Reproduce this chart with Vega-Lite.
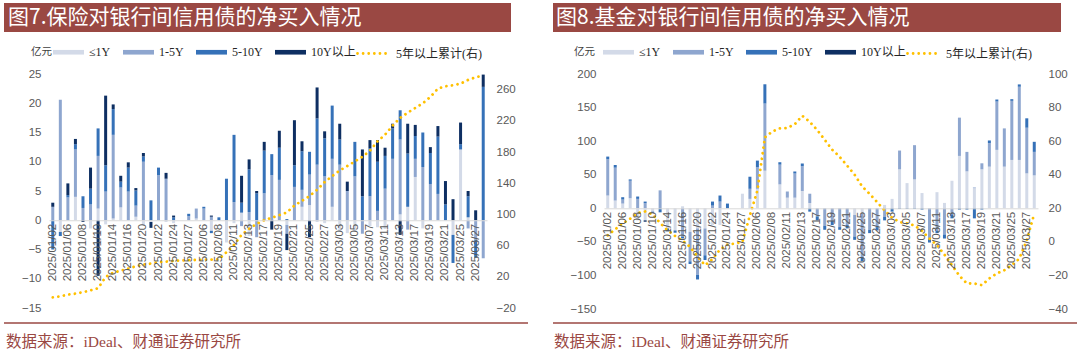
{
  "$schema": "https://vega.github.io/schema/vega-lite/v6.json",
  "background": "white",
  "padding": {"left": 3, "top": 3, "right": 0, "bottom": 0},
  "config": {"view": {"stroke": null}, "font": "Liberation Sans"},
  "datasets": {
    "ins": [
      {"d":"2025/01/02","le1":0,"y1_5":2.3,"y5_10":-5,"gt10":0.7,"cum":-6.3},
      {"d":"2025/01/03","le1":-2,"y1_5":20.6,"y5_10":-0.7,"gt10":0,"cum":-5},
      {"d":"2025/01/06","le1":0,"y1_5":3.9,"y5_10":0.4,"gt10":2,"cum":-2.9},
      {"d":"2025/01/07","le1":4,"y1_5":8.1,"y5_10":0.9,"gt10":0.9,"cum":-1.6},
      {"d":"2025/01/08","le1":0,"y1_5":2.1,"y5_10":2,"gt10":-0.3,"cum":0.2},
      {"d":"2025/01/09","le1":-1.4,"y1_5":2.7,"y5_10":2.7,"gt10":3.6,"cum":2.7},
      {"d":"2025/01/10","le1":2,"y1_5":9,"y5_10":4.7,"gt10":-9.5,"cum":5.3},
      {"d":"2025/01/13","le1":-0.7,"y1_5":4.9,"y5_10":4.5,"gt10":11.9,"cum":19.8},
      {"d":"2025/01/14","le1":0.3,"y1_5":14.3,"y5_10":4.4,"gt10":0.8,"cum":25.3},
      {"d":"2025/01/15","le1":2.2,"y1_5":3.4,"y5_10":1,"gt10":1,"cum":27.9},
      {"d":"2025/01/16","le1":0,"y1_5":4.9,"y5_10":4.1,"gt10":0.9,"cum":30.5},
      {"d":"2025/01/17","le1":0.6,"y1_5":1.9,"y5_10":2.6,"gt10":0.4,"cum":33.5},
      {"d":"2025/01/20","le1":-0.8,"y1_5":10,"y5_10":0.9,"gt10":0.6,"cum":35.6},
      {"d":"2025/01/21","le1":-0.3,"y1_5":0,"y5_10":3.4,"gt10":-1,"cum":36.9},
      {"d":"2025/01/22","le1":0,"y1_5":7.7,"y5_10":1.3,"gt10":0,"cum":38.7},
      {"d":"2025/01/23","le1":-0.3,"y1_5":7.1,"y5_10":0,"gt10":1,"cum":39.5},
      {"d":"2025/01/24","le1":-0.5,"y1_5":0,"y5_10":0.5,"gt10":0.3,"cum":40.4},
      {"d":"2025/01/26","le1":0,"y1_5":0,"y5_10":0,"gt10":0,"cum":41},
      {"d":"2025/01/27","le1":0,"y1_5":0.7,"y5_10":0.4,"gt10":0,"cum":41.3},
      {"d":"2025/02/05","le1":0.3,"y1_5":1.7,"y5_10":0,"gt10":0,"cum":41.6},
      {"d":"2025/02/06","le1":0,"y1_5":2,"y5_10":0.3,"gt10":0,"cum":42},
      {"d":"2025/02/07","le1":-1.8,"y1_5":0.6,"y5_10":-0.4,"gt10":0.2,"cum":42},
      {"d":"2025/02/08","le1":0,"y1_5":0,"y5_10":0.5,"gt10":0,"cum":42.5},
      {"d":"2025/02/10","le1":-3.8,"y1_5":0,"y5_10":7.1,"gt10":0,"cum":51.5},
      {"d":"2025/02/11","le1":-0.5,"y1_5":3.1,"y5_10":11.5,"gt10":0,"cum":60.9},
      {"d":"2025/02/12","le1":1.3,"y1_5":-1,"y5_10":1.7,"gt10":4.6,"cum":73.8},
      {"d":"2025/02/13","le1":-2.7,"y1_5":1.4,"y5_10":7.3,"gt10":1.7,"cum":81.5},
      {"d":"2025/02/14","le1":0,"y1_5":-2.9,"y5_10":4.6,"gt10":0.4,"cum":87.9},
      {"d":"2025/02/17","le1":0,"y1_5":4.6,"y5_10":7.3,"gt10":1.5,"cum":92.6},
      {"d":"2025/02/18","le1":0,"y1_5":7.7,"y5_10":3.6,"gt10":-1.6,"cum":95.6},
      {"d":"2025/02/19","le1":0,"y1_5":6.9,"y5_10":5.5,"gt10":2.9,"cum":99.1},
      {"d":"2025/02/20","le1":-0.8,"y1_5":-1.5,"y5_10":0.2,"gt10":-2.8,"cum":102.4},
      {"d":"2025/02/21","le1":0,"y1_5":5.7,"y5_10":3.7,"gt10":7.7,"cum":111.4},
      {"d":"2025/02/24","le1":2.3,"y1_5":2.9,"y5_10":6.6,"gt10":1.7,"cum":117.4},
      {"d":"2025/02/25","le1":2.6,"y1_5":5.2,"y5_10":3.9,"gt10":-2.9,"cum":123.5},
      {"d":"2025/02/26","le1":-0.3,"y1_5":9.5,"y5_10":7.9,"gt10":5.3,"cum":131.6},
      {"d":"2025/02/27","le1":-0.5,"y1_5":7.5,"y5_10":6.5,"gt10":1.2,"cum":141.4},
      {"d":"2025/02/28","le1":2.3,"y1_5":8.2,"y5_10":9.1,"gt10":0,"cum":149.1},
      {"d":"2025/03/03","le1":-2,"y1_5":9.5,"y5_10":4.3,"gt10":2.7,"cum":156.3},
      {"d":"2025/03/04","le1":-2.2,"y1_5":5,"y5_10":0,"gt10":1.6,"cum":162},
      {"d":"2025/03/05","le1":-2,"y1_5":7.5,"y5_10":5.9,"gt10":0,"cum":167.9},
      {"d":"2025/03/06","le1":0,"y1_5":-2.3,"y5_10":4.1,"gt10":8,"cum":173.9},
      {"d":"2025/03/07","le1":-1,"y1_5":4.1,"y5_10":8.2,"gt10":1.4,"cum":181.6},
      {"d":"2025/03/10","le1":-1.2,"y1_5":1.6,"y5_10":8.4,"gt10":3.7,"cum":193.6},
      {"d":"2025/03/11","le1":-1.5,"y1_5":5.4,"y5_10":5.6,"gt10":1.4,"cum":202.2},
      {"d":"2025/03/12","le1":0,"y1_5":10.5,"y5_10":5.2,"gt10":0.8,"cum":213.8},
      {"d":"2025/03/13","le1":1,"y1_5":12.8,"y5_10":5,"gt10":-2.5,"cum":223.6},
      {"d":"2025/03/14","le1":2.3,"y1_5":-1.6,"y5_10":9.1,"gt10":5.1,"cum":230.4},
      {"d":"2025/03/17","le1":7.4,"y1_5":3.1,"y5_10":3.9,"gt10":1.9,"cum":236.5},
      {"d":"2025/03/18","le1":-1.4,"y1_5":9.1,"y5_10":5.9,"gt10":0,"cum":242.4},
      {"d":"2025/03/19","le1":0,"y1_5":6.2,"y5_10":5.3,"gt10":1,"cum":250.6},
      {"d":"2025/03/20","le1":0,"y1_5":4.5,"y5_10":9.8,"gt10":1.8,"cum":261.3},
      {"d":"2025/03/21","le1":0,"y1_5":0,"y5_10":2.7,"gt10":4,"cum":264.2},
      {"d":"2025/03/24","le1":-2.5,"y1_5":0,"y5_10":-4.8,"gt10":3.6,"cum":265.5},
      {"d":"2025/03/25","le1":12.1,"y1_5":0,"y5_10":0.9,"gt10":3.7,"cum":267.7},
      {"d":"2025/03/26","le1":0.5,"y1_5":-1.4,"y5_10":3.6,"gt10":0.9,"cum":272.4},
      {"d":"2025/03/27","le1":0,"y1_5":-3.4,"y5_10":-3,"gt10":1.7,"cum":275.8},
      {"d":"2025/03/28","le1":0,"y1_5":-6.5,"y5_10":22.8,"gt10":2.1,"cum":278}
    ],
    "fund": [
      {"d":"2025/01/02","le1":19,"y1_5":54,"y5_10":4,"gt10":0,"cum":3.9},
      {"d":"2025/01/03","le1":11.5,"y1_5":49,"y5_10":4,"gt10":0,"cum":7.5},
      {"d":"2025/01/06","le1":7,"y1_5":6,"y5_10":3.5,"gt10":0,"cum":11},
      {"d":"2025/01/07","le1":15,"y1_5":26,"y5_10":2,"gt10":0,"cum":13.8},
      {"d":"2025/01/08","le1":-18,"y1_5":14,"y5_10":3.5,"gt10":0,"cum":17.2},
      {"d":"2025/01/09","le1":-18,"y1_5":7.5,"y5_10":2.5,"gt10":-2,"cum":18.1},
      {"d":"2025/01/10","le1":-5,"y1_5":0,"y5_10":-1.7,"gt10":0,"cum":16.4},
      {"d":"2025/01/13","le1":0,"y1_5":26.7,"y5_10":-6,"gt10":0,"cum":11.2},
      {"d":"2025/01/14","le1":-30,"y1_5":0,"y5_10":-4.3,"gt10":0,"cum":6.9},
      {"d":"2025/01/15","le1":-33,"y1_5":0,"y5_10":-3.4,"gt10":0,"cum":3.5},
      {"d":"2025/01/16","le1":3,"y1_5":-42,"y5_10":-3,"gt10":0,"cum":0.7},
      {"d":"2025/01/17","le1":-35,"y1_5":-44,"y5_10":-4,"gt10":0,"cum":-3},
      {"d":"2025/01/20","le1":-30,"y1_5":-69,"y5_10":-7,"gt10":0,"cum":-8.9},
      {"d":"2025/01/21","le1":-30,"y1_5":-40,"y5_10":-7,"gt10":0,"cum":-13.9},
      {"d":"2025/01/22","le1":-25,"y1_5":4,"y5_10":6,"gt10":0,"cum":-10.3},
      {"d":"2025/01/23","le1":-25,"y1_5":10,"y5_10":9,"gt10":0,"cum":-4.6},
      {"d":"2025/01/24","le1":0,"y1_5":0,"y5_10":7,"gt10":0,"cum":-1.6},
      {"d":"2025/01/26","le1":0,"y1_5":0,"y5_10":0,"gt10":0,"cum":-1},
      {"d":"2025/01/27","le1":21.7,"y1_5":0,"y5_10":0,"gt10":0,"cum":0},
      {"d":"2025/02/05","le1":14,"y1_5":15,"y5_10":18,"gt10":0,"cum":15.8},
      {"d":"2025/02/06","le1":29,"y1_5":32,"y5_10":10,"gt10":0,"cum":30.6},
      {"d":"2025/02/07","le1":56,"y1_5":100,"y5_10":28.7,"gt10":0,"cum":62.2},
      {"d":"2025/02/08","le1":0,"y1_5":0,"y5_10":0,"gt10":0,"cum":65.8},
      {"d":"2025/02/10","le1":35.6,"y1_5":29.4,"y5_10":3.6,"gt10":0,"cum":67.6},
      {"d":"2025/02/11","le1":15.8,"y1_5":9.2,"y5_10":0,"gt10":0,"cum":67.8},
      {"d":"2025/02/12","le1":15.8,"y1_5":36,"y5_10":3,"gt10":0,"cum":70.1},
      {"d":"2025/02/13","le1":25.7,"y1_5":37,"y5_10":4,"gt10":0,"cum":75.1},
      {"d":"2025/02/14","le1":7.9,"y1_5":13.8,"y5_10":-5,"gt10":0,"cum":71.5},
      {"d":"2025/02/17","le1":0,"y1_5":-12,"y5_10":-6,"gt10":0,"cum":66.6},
      {"d":"2025/02/18","le1":0,"y1_5":-26,"y5_10":-6,"gt10":0,"cum":60.8},
      {"d":"2025/02/19","le1":0,"y1_5":-19,"y5_10":-6,"gt10":0,"cum":54.9},
      {"d":"2025/02/20","le1":0,"y1_5":-28,"y5_10":-4,"gt10":0,"cum":50.6},
      {"d":"2025/02/21","le1":0,"y1_5":-25,"y5_10":-5,"gt10":0,"cum":45.4},
      {"d":"2025/02/24","le1":-10,"y1_5":-32,"y5_10":-5,"gt10":0,"cum":39.9},
      {"d":"2025/02/25","le1":-8,"y1_5":-64,"y5_10":-7,"gt10":0,"cum":33},
      {"d":"2025/02/26","le1":0,"y1_5":-32,"y5_10":-5,"gt10":0,"cum":28.6},
      {"d":"2025/02/27","le1":0,"y1_5":-28,"y5_10":-5,"gt10":0,"cum":23.7},
      {"d":"2025/02/28","le1":5,"y1_5":-13,"y5_10":-5,"gt10":0,"cum":18.7},
      {"d":"2025/03/03","le1":14,"y1_5":0,"y5_10":-5,"gt10":0,"cum":14.4},
      {"d":"2025/03/04","le1":58,"y1_5":28,"y5_10":-1,"gt10":0,"cum":11.8},
      {"d":"2025/03/05","le1":37.5,"y1_5":0,"y5_10":-1,"gt10":0,"cum":11},
      {"d":"2025/03/06","le1":43,"y1_5":51,"y5_10":-1,"gt10":0,"cum":9.8},
      {"d":"2025/03/07","le1":22.7,"y1_5":0,"y5_10":-2,"gt10":0,"cum":6.5},
      {"d":"2025/03/10","le1":0,"y1_5":-46,"y5_10":-5,"gt10":0,"cum":2},
      {"d":"2025/03/11","le1":24,"y1_5":-33,"y5_10":-4,"gt10":0,"cum":-2},
      {"d":"2025/03/12","le1":8,"y1_5":-39,"y5_10":-6,"gt10":0,"cum":-7.6},
      {"d":"2025/03/13","le1":41,"y1_5":-9,"y5_10":-6,"gt10":0,"cum":-13.9},
      {"d":"2025/03/14","le1":78,"y1_5":57,"y5_10":-2,"gt10":0,"cum":-20.2},
      {"d":"2025/03/17","le1":55,"y1_5":29,"y5_10":-2,"gt10":0,"cum":-24.8},
      {"d":"2025/03/18","le1":30,"y1_5":1,"y5_10":-15,"gt10":0,"cum":-24.8},
      {"d":"2025/03/19","le1":58,"y1_5":9,"y5_10":-2,"gt10":0,"cum":-25.8},
      {"d":"2025/03/20","le1":62,"y1_5":35,"y5_10":4,"gt10":0,"cum":-21.8},
      {"d":"2025/03/21","le1":87,"y1_5":72,"y5_10":3,"gt10":0,"cum":-18.8},
      {"d":"2025/03/24","le1":62,"y1_5":57,"y5_10":0,"gt10":0,"cum":-16.9},
      {"d":"2025/03/25","le1":72,"y1_5":88,"y5_10":2.5,"gt10":0,"cum":-13.9},
      {"d":"2025/03/26","le1":72,"y1_5":109,"y5_10":3.5,"gt10":0,"cum":-10},
      {"d":"2025/03/27","le1":52,"y1_5":68,"y5_10":14,"gt10":0,"cum":0.9},
      {"d":"2025/03/28","le1":49,"y1_5":35,"y5_10":15,"gt10":0,"cum":16.8}
    ]
  },
  "bounds": "flush",
  "spacing": 117,
  "hconcat": [
    {
      "width": 438,
      "height": 234,
      "resolve": {"scale": {"y": "independent", "color": "independent"}},
      "layer": [
        {"data": {"values": [{}]}, "mark": {"type": "rect", "color": "#9a4843"},
         "encoding": {"x": {"value": -45}, "x2": {"value": 462}, "y": {"value": -71}, "y2": {"value": -42}}},
        {"data": {"values": [{"t": "图7.保险对银行间信用债的净买入情况"}]},
         "mark": {"type": "text", "align": "left", "baseline": "middle", "color": "#ffffff", "font": "Noto Sans CJK SC", "fontSize": 21},
         "encoding": {"text": {"field": "t"}, "x": {"value": -41}, "y": {"value": -56}}},
        {"data": {"values": [{"t": "亿元"}]},
         "mark": {"type": "text", "align": "left", "baseline": "middle", "color": "#404040", "font": "Noto Sans CJK SC", "fontSize": 10.5},
         "encoding": {"text": {"field": "t"}, "x": {"value": -18}, "y": {"value": -22}}},
        {"data": {"values": [{}]}, "mark": {"type": "rule", "color": "#9a4843", "strokeWidth": 1.5},
         "encoding": {"x": {"value": -45}, "x2": {"value": 479}, "y": {"value": 249}}},
        {"data": {"values": [{"t": "数据来源：iDeal、财通证券研究所"}]},
         "mark": {"type": "text", "align": "left", "baseline": "middle", "color": "#9a4843", "font": "Liberation Serif, Noto Sans CJK SC", "fontSize": 15.5},
         "encoding": {"text": {"field": "t"}, "x": {"value": -43}, "y": {"value": 268}}},
        {
          "data": {"name": "ins"},
          "transform": [
            {"fold": ["le1", "y1_5", "y5_10", "gt10"], "as": ["key", "v"]},
            {"lookup": "key", "from": {"data": {"values": [
              {"key": "le1", "s": "≤1Y", "k": 1},
              {"key": "y1_5", "s": "1-5Y", "k": 2},
              {"key": "y5_10", "s": "5-10Y", "k": 3},
              {"key": "gt10", "s": "10Y以上", "k": 4}
            ]}, "key": "key", "fields": ["s", "k"]}}
          ],
          "mark": {"type": "bar", "width": 3},
          "encoding": {
            "x": {"field": "d", "type": "ordinal", "scale": {"paddingInner": 0, "paddingOuter": 0},
              "axis": {"orient": "bottom", "offset": -87.75, "title": null, "labelAngle": -90, "labelFont": "Liberation Sans", "labelFontSize": 11.5, "labelColor": "#595959", "domainColor": "#d9d9d9", "ticks": false, "tickSize": 0, "labelPadding": 3, "zindex": 1, "labelOverlap": false,
                "values": ["2025/01/02","2025/01/06","2025/01/08","2025/01/10","2025/01/14","2025/01/16","2025/01/20","2025/01/22","2025/01/24","2025/01/27","2025/02/06","2025/02/08","2025/02/11","2025/02/13","2025/02/17","2025/02/19","2025/02/21","2025/02/25","2025/02/27","2025/03/03","2025/03/05","2025/03/07","2025/03/11","2025/03/13","2025/03/17","2025/03/19","2025/03/21","2025/03/25","2025/03/27"]}},
            "y": {"field": "v", "type": "quantitative", "stack": "zero", "scale": {"domain": [-15, 25], "nice": false, "zero": false},
              "axis": {"orient": "left", "title": null, "values": [-15, -10, -5, 0, 5, 10, 15, 20, 25], "domain": false, "ticks": false, "grid": false, "labelFont": "Liberation Sans", "labelFontSize": 11.5, "labelColor": "#595959", "labelPadding": 8}},
            "color": {"field": "s", "type": "nominal",
              "scale": {"domain": ["≤1Y", "1-5Y", "5-10Y", "10Y以上"], "range": ["#d3dae8", "#8ea6cf", "#3571b8", "#0e2f62"]},
              "legend": {"orient": "none", "legendX": 4, "legendY": -37.5, "direction": "horizontal", "title": null, "symbolType": "M-1,-0.15H1V0.15H-1Z", "symbolSize": 961, "symbolStrokeWidth": 0, "labelFont": "Liberation Serif, Noto Sans CJK SC", "labelFontSize": 12, "labelColor": "#262626", "labelOffset": 5, "columnPadding": 12, "padding": 0}},
            "order": {"field": "k", "type": "quantitative", "sort": "ascending"}
          }
        },
        {
          "data": {"name": "ins"},
          "mark": {"type": "line", "strokeWidth": 2.8, "strokeDash": [0.01, 5.6], "strokeCap": "round"},
          "encoding": {
            "x": {"field": "d", "type": "ordinal", "scale": {"paddingInner": 0, "paddingOuter": 0},
              "axis": {"orient": "bottom", "offset": -87.75, "title": null, "labelAngle": -90, "labelFont": "Liberation Sans", "labelFontSize": 11.5, "labelColor": "#595959", "domainColor": "#d9d9d9", "ticks": false, "tickSize": 0, "labelPadding": 3, "zindex": 1, "labelOverlap": false,
                "values": ["2025/01/02","2025/01/06","2025/01/08","2025/01/10","2025/01/14","2025/01/16","2025/01/20","2025/01/22","2025/01/24","2025/01/27","2025/02/06","2025/02/08","2025/02/11","2025/02/13","2025/02/17","2025/02/19","2025/02/21","2025/02/25","2025/02/27","2025/03/03","2025/03/05","2025/03/07","2025/03/11","2025/03/13","2025/03/17","2025/03/19","2025/03/21","2025/03/25","2025/03/27"]}},
            "y": {"field": "cum", "type": "quantitative", "scale": {"domain": [-20, 280], "nice": false, "zero": false},
              "axis": {"orient": "right", "title": null, "values": [-20, 20, 60, 100, 140, 180, 220, 260], "domain": false, "ticks": false, "grid": false, "labelFont": "Liberation Sans", "labelFontSize": 11.5, "labelColor": "#595959", "labelPadding": 9}},
            "color": {"datum": "5年以上累计(右)", "type": "nominal", "scale": {"range": ["#FFC000"]},
              "legend": {"orient": "none", "legendX": 307, "legendY": -38, "title": null, "symbolType": "stroke", "symbolSize": 1024, "symbolStrokeWidth": 2.8, "symbolDash": [0.01, 5.6], "labelFont": "Liberation Serif, Noto Sans CJK SC", "labelFontSize": 12, "labelColor": "#262626", "labelOffset": 5, "padding": 0,
                "encode": {"symbols": {"update": {"strokeCap": {"value": "round"}}}}}}
          }
        }
      ]
    },
    {
      "width": 434,
      "height": 235,
      "resolve": {"scale": {"y": "independent", "color": "independent"}},
      "layer": [
        {"data": {"values": [{}]}, "mark": {"type": "rect", "color": "#9a4843"},
         "encoding": {"x": {"value": -51}, "x2": {"value": 457}, "y": {"value": -71}, "y2": {"value": -42}}},
        {"data": {"values": [{"t": "图8.基金对银行间信用债的净买入情况"}]},
         "mark": {"type": "text", "align": "left", "baseline": "middle", "color": "#ffffff", "font": "Noto Sans CJK SC", "fontSize": 21},
         "encoding": {"text": {"field": "t"}, "x": {"value": -48}, "y": {"value": -56}}},
        {"data": {"values": [{"t": "亿元"}]},
         "mark": {"type": "text", "align": "left", "baseline": "middle", "color": "#404040", "font": "Noto Sans CJK SC", "fontSize": 10.5},
         "encoding": {"text": {"field": "t"}, "x": {"value": -30}, "y": {"value": -22}}},
        {"data": {"values": [{}]}, "mark": {"type": "rule", "color": "#9a4843", "strokeWidth": 1.5},
         "encoding": {"x": {"value": -51}, "x2": {"value": 473}, "y": {"value": 249}}},
        {"data": {"values": [{"t": "数据来源：iDeal、财通证券研究所"}]},
         "mark": {"type": "text", "align": "left", "baseline": "middle", "color": "#9a4843", "font": "Liberation Serif, Noto Sans CJK SC", "fontSize": 15.5},
         "encoding": {"text": {"field": "t"}, "x": {"value": -50}, "y": {"value": 268}}},
        {
          "data": {"name": "fund"},
          "transform": [
            {"fold": ["le1", "y1_5", "y5_10", "gt10"], "as": ["key", "v"]},
            {"lookup": "key", "from": {"data": {"values": [
              {"key": "le1", "s": "≤1Y", "k": 1},
              {"key": "y1_5", "s": "1-5Y", "k": 2},
              {"key": "y5_10", "s": "5-10Y", "k": 3},
              {"key": "gt10", "s": "10Y以上", "k": 4}
            ]}, "key": "key", "fields": ["s", "k"]}}
          ],
          "mark": {"type": "bar", "width": 3},
          "encoding": {
            "x": {"field": "d", "type": "ordinal", "scale": {"paddingInner": 0, "paddingOuter": 0},
              "axis": {"orient": "bottom", "offset": -100.7, "title": null, "labelAngle": -90, "labelFont": "Liberation Sans", "labelFontSize": 11.5, "labelColor": "#595959", "domainColor": "#d9d9d9", "ticks": false, "tickSize": 0, "labelPadding": 3, "zindex": 1, "labelOverlap": false,
                "values": ["2025/01/02","2025/01/06","2025/01/08","2025/01/10","2025/01/14","2025/01/16","2025/01/20","2025/01/22","2025/01/24","2025/01/27","2025/02/06","2025/02/08","2025/02/11","2025/02/13","2025/02/17","2025/02/19","2025/02/21","2025/02/25","2025/02/27","2025/03/03","2025/03/05","2025/03/07","2025/03/11","2025/03/13","2025/03/17","2025/03/19","2025/03/21","2025/03/25","2025/03/27"]}},
            "y": {"field": "v", "type": "quantitative", "stack": "zero", "scale": {"domain": [-150, 200], "nice": false, "zero": false},
              "axis": {"orient": "left", "title": null, "values": [-150, -100, -50, 0, 50, 100, 150, 200], "domain": false, "ticks": false, "grid": false, "labelFont": "Liberation Sans", "labelFontSize": 11.5, "labelColor": "#595959", "labelPadding": 8}},
            "color": {"field": "s", "type": "nominal",
              "scale": {"domain": ["≤1Y", "1-5Y", "5-10Y", "10Y以上"], "range": ["#d3dae8", "#8ea6cf", "#3571b8", "#0e2f62"]},
              "legend": {"orient": "none", "legendX": -1, "legendY": -37.5, "direction": "horizontal", "title": null, "symbolType": "M-1,-0.15H1V0.15H-1Z", "symbolSize": 961, "symbolStrokeWidth": 0, "labelFont": "Liberation Serif, Noto Sans CJK SC", "labelFontSize": 12, "labelColor": "#262626", "labelOffset": 5, "columnPadding": 12, "padding": 0}},
            "order": {"field": "k", "type": "quantitative", "sort": "ascending"}
          }
        },
        {
          "data": {"name": "fund"},
          "mark": {"type": "line", "strokeWidth": 2.8, "strokeDash": [0.01, 5.6], "strokeCap": "round"},
          "encoding": {
            "x": {"field": "d", "type": "ordinal", "scale": {"paddingInner": 0, "paddingOuter": 0},
              "axis": {"orient": "bottom", "offset": -100.7, "title": null, "labelAngle": -90, "labelFont": "Liberation Sans", "labelFontSize": 11.5, "labelColor": "#595959", "domainColor": "#d9d9d9", "ticks": false, "tickSize": 0, "labelPadding": 3, "zindex": 1, "labelOverlap": false,
                "values": ["2025/01/02","2025/01/06","2025/01/08","2025/01/10","2025/01/14","2025/01/16","2025/01/20","2025/01/22","2025/01/24","2025/01/27","2025/02/06","2025/02/08","2025/02/11","2025/02/13","2025/02/17","2025/02/19","2025/02/21","2025/02/25","2025/02/27","2025/03/03","2025/03/05","2025/03/07","2025/03/11","2025/03/13","2025/03/17","2025/03/19","2025/03/21","2025/03/25","2025/03/27"]}},
            "y": {"field": "cum", "type": "quantitative", "scale": {"domain": [-40, 100], "nice": false, "zero": false},
              "axis": {"orient": "right", "title": null, "values": [-40, -20, 0, 20, 40, 60, 80, 100], "domain": false, "ticks": false, "grid": false, "labelFont": "Liberation Sans", "labelFontSize": 11.5, "labelColor": "#595959", "labelPadding": 10}},
            "color": {"datum": "5年以上累计(右)", "type": "nominal", "scale": {"range": ["#FFC000"]},
              "legend": {"orient": "none", "legendX": 302, "legendY": -38, "title": null, "symbolType": "stroke", "symbolSize": 1024, "symbolStrokeWidth": 2.8, "symbolDash": [0.01, 5.6], "labelFont": "Liberation Serif, Noto Sans CJK SC", "labelFontSize": 12, "labelColor": "#262626", "labelOffset": 5, "padding": 0,
                "encode": {"symbols": {"update": {"strokeCap": {"value": "round"}}}}}}
          }
        }
      ]
    }
  ]
}
